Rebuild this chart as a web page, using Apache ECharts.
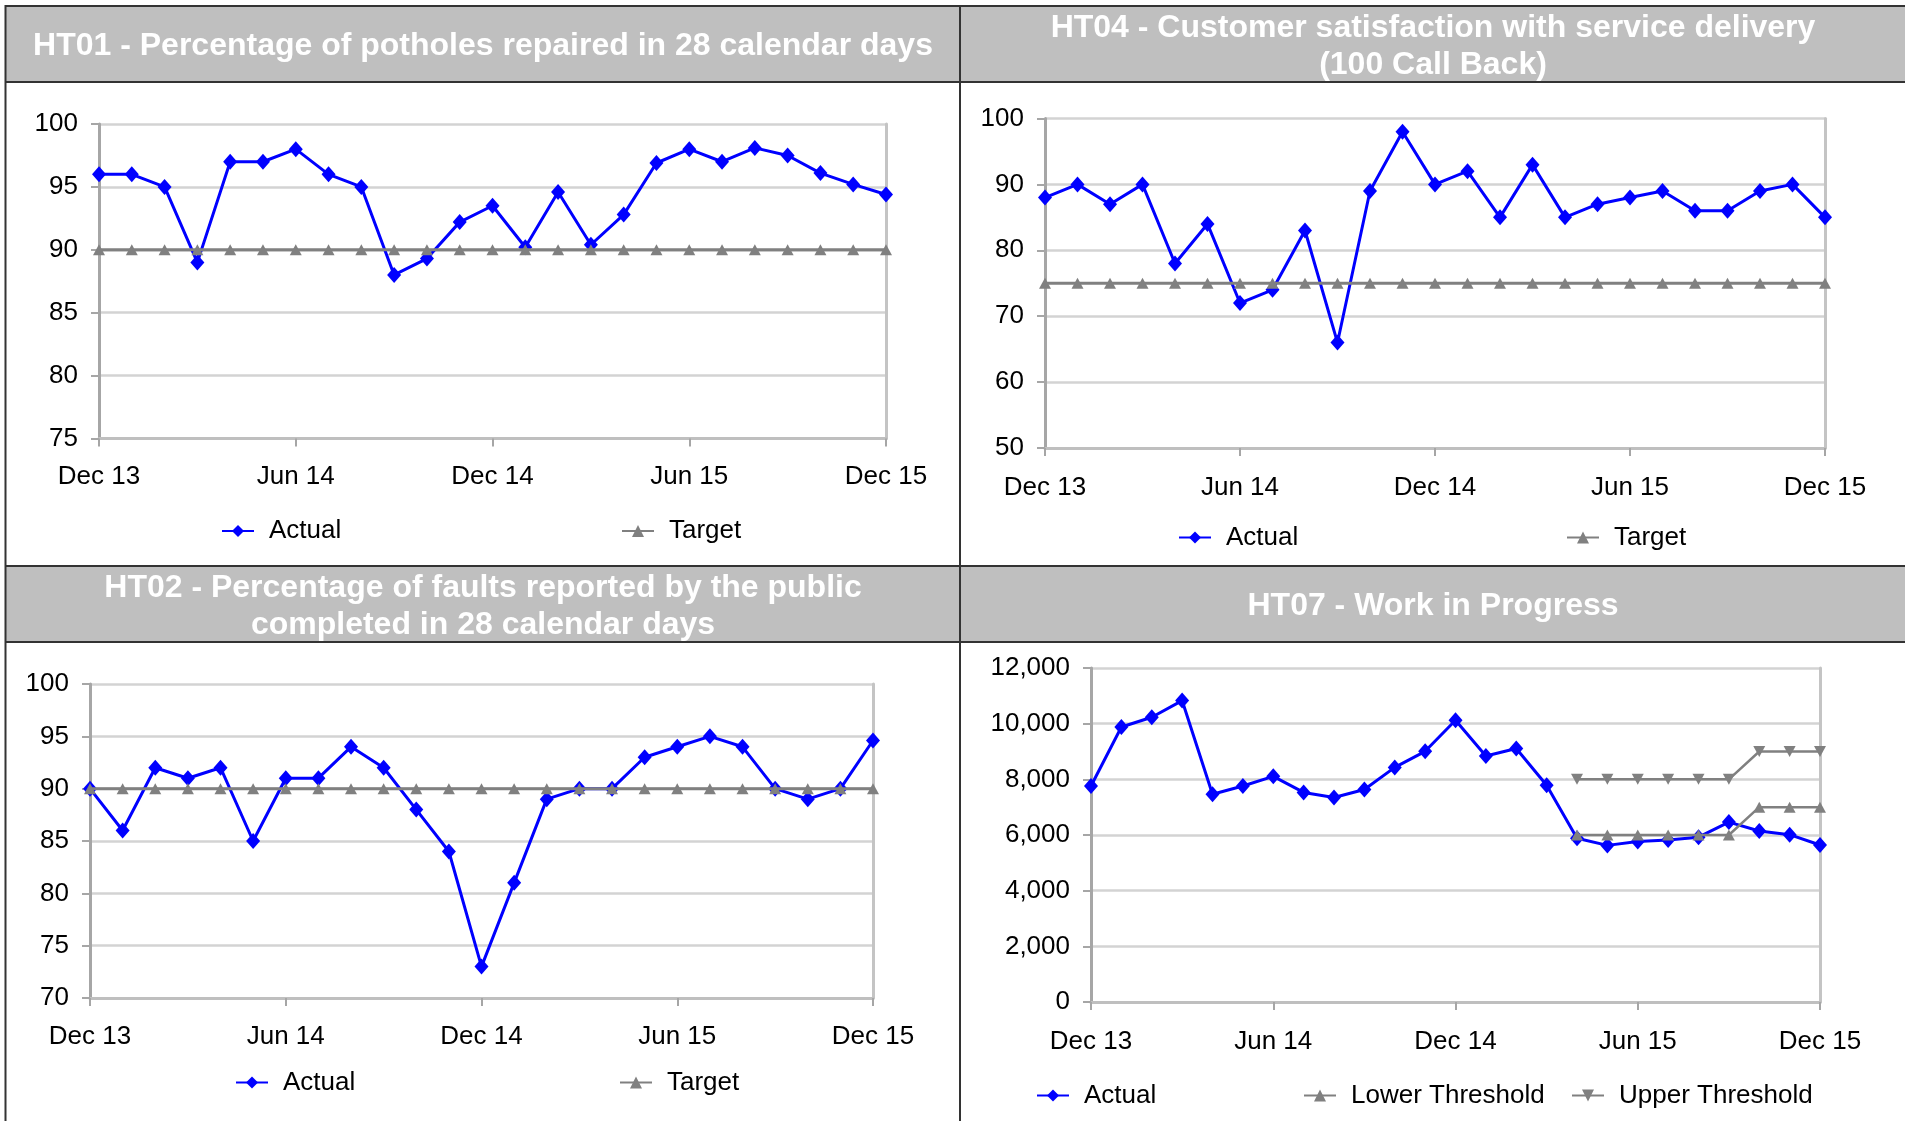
<!DOCTYPE html>
<html>
<head>
<meta charset="utf-8">
<script src="https://cdn.jsdelivr.net/npm/echarts@6/dist/echarts.min.js"></script>
<style>
html,body{margin:0;padding:0;background:#fff;}
#main{width:1905px;height:1121px;}
</style>
</head>
<body>
<div id="main"></div>
<script>
const months = ['Dec 13','Jan 14','Feb 14','Mar 14','Apr 14','May 14','Jun 14','Jul 14','Aug 14','Sep 14','Oct 14','Nov 14','Dec 14','Jan 15','Feb 15','Mar 15','Apr 15','May 15','Jun 15','Jul 15','Aug 15','Sep 15','Oct 15','Nov 15','Dec 15'];

const titles = [
  'HT01 - Percentage of potholes repaired in 28 calendar days',
  'HT04 - Customer satisfaction with service delivery\n(100 Call Back)',
  'HT02 - Percentage of faults reported by the public\ncompleted in 28 calendar days',
  'HT07 - Work in Progress'
];

const ht01Actual = [96,96,95,89,97,97,98,96,95,88,89.3,92.2,93.5,90.2,94.6,90.4,92.8,96.9,98,97,98.1,97.5,96.1,95.2,94.4];
const ht01Target = [90,90,90,90,90,90,90,90,90,90,90,90,90,90,90,90,90,90,90,90,90,90,90,90,90];

const ht04Actual = [88,90,87,90,78,84,72,74,83,66,89,98,90,92,85,93,85,87,88,89,86,86,89,90,85];
const ht04Target = [75,75,75,75,75,75,75,75,75,75,75,75,75,75,75,75,75,75,75,75,75,75,75,75,75];

const ht02Actual = [90,86,92,91,92,85,91,91,94,92,88,84,73,81,89,90,90,93,94,95,94,90,89,90,94.6];
const ht02Target = [90,90,90,90,90,90,90,90,90,90,90,90,90,90,90,90,90,90,90,90,90,90,90,90,90];

const ht07Actual = [7760,9880,10230,10830,7465,7760,8107,7530,7350,7632,8429,9007,10125,8840,9110,7786,5884,5627,5769,5820,5923,6463,6142,6013,5640];
const ht07Lower = [null,null,null,null,null,null,null,null,null,null,null,null,null,null,null,null,6000,6000,6000,6000,6000,6000,7000,7000,7000];
const ht07Upper = [null,null,null,null,null,null,null,null,null,null,null,null,null,null,null,null,8000,8000,8000,8000,8000,8000,9000,9000,9000];

const yRanges = [[75,100,5],[50,100,10],[70,100,5],[0,12000,2000]];

const FONT = '"Liberation Sans", Arial, sans-serif';
const chart = echarts.init(document.getElementById('main'));

const grids = [
  {left:99, top:124, width:787, height:314.5},
  {left:1045, top:118.5, width:780, height:329.5},
  {left:90, top:684, width:783, height:314},
  {left:1091, top:668, width:729, height:334}
];
const xMargins = [25, 26.5, 25.5, 26.5];

const xAxes = grids.map((g,i)=>({
  type:'category', gridIndex:i, data:months, boundaryGap:false,
  axisLine:{show:true, lineStyle:{color:'#BFBFBF', width:3}},
  axisTick:{show:true, interval:5, length:8, lineStyle:{color:'#A6A6A6', width:2}},
  axisLabel:{interval:5, margin:xMargins[i], fontSize:26, color:'#000', fontFamily:FONT},
  splitLine:{show:false}
}));

const yAxes = [];
grids.forEach((g,i)=>{
  const r = yRanges[i];
  yAxes.push({
    type:'value', gridIndex:i, min:r[0], max:r[1], interval:r[2], position:'left',
    axisLine:{show:true, lineStyle:{color:'#A6A6A6', width:3}},
    axisTick:{show:true, length:8, lineStyle:{color:'#A6A6A6', width:2}},
    axisLabel:{margin:21, fontSize:26, color:'#000', fontFamily:FONT, padding:[3,0,0,0],
      formatter: v => i===3 ? v.toLocaleString('en-US') : String(v)},
    splitLine:{show:true, lineStyle:{color:'#D3D3D3', width:2.5}}
  });
  yAxes.push({
    type:'value', gridIndex:i, min:r[0], max:r[1], interval:r[2], position:'right',
    axisLine:{show:true, lineStyle:{color:'#C4C4C4', width:3}},
    axisTick:{show:false}, axisLabel:{show:false}, splitLine:{show:false}
  });
});

function actual(i, data){
  return {type:'line', name:'Actual', xAxisIndex:i, yAxisIndex:2*i, data:data,
    symbol:'diamond', symbolSize:[14,16], showSymbol:true,
    itemStyle:{color:'#0000FF'}, lineStyle:{color:'#0000FF', width:3}, z:3};
}
function gray(i, name, data, rotate, width){
  return {type:'line', name:name, xAxisIndex:i, yAxisIndex:2*i, data:data,
    symbol:'triangle', symbolRotate:rotate, symbolSize:[12,11], showSymbol:true,
    itemStyle:{color:'#808080'}, lineStyle:{color:'#808080', width:width}, z:4};
}

const series = [
  actual(0, ht01Actual), gray(0,'Target',ht01Target,0,3),
  actual(1, ht04Actual), gray(1,'Target',ht04Target,0,3),
  actual(2, ht02Actual), gray(2,'Target',ht02Target,0,3),
  actual(3, ht07Actual), gray(3,'Lower Threshold',ht07Lower,0,2.5), gray(3,'Upper Threshold',ht07Upper,180,2.5)
];

const legendItems = [
  ['Actual',221,528.5],['Target',621,528.5],
  ['Actual',1178,535],['Target',1566,535],
  ['Actual',235,1080],['Target',619,1080],
  ['Actual',1036,1093],['Lower Threshold',1303,1093],['Upper Threshold',1571,1093]
];
const legends = legendItems.map(it=>({
  data:[it[0]], left:it[1], top:it[2]-10.5, padding:0, itemWidth:32, itemHeight:15,
  selectedMode:false,
  textStyle:{fontSize:26, color:'#000', fontFamily:FONT, padding:[0,0,0,10]}
}));

const headerFill = '#BFBFBF';
const lineCol = '#333333';
const titlePos = [[483,46.5],[1433,47],[483,607],[1433,606.5]];
const graphic = [
  {type:'rect', shape:{x:6,y:6,width:954,height:76}, style:{fill:headerFill}, z:-10},
  {type:'rect', shape:{x:960,y:6,width:945,height:76}, style:{fill:headerFill}, z:-10},
  {type:'rect', shape:{x:6,y:566,width:954,height:76}, style:{fill:headerFill}, z:-10},
  {type:'rect', shape:{x:960,y:566,width:945,height:76}, style:{fill:headerFill}, z:-10},
  {type:'line', shape:{x1:5,y1:6,x2:1905,y2:6}, style:{stroke:lineCol,lineWidth:2}, z:-5},
  {type:'line', shape:{x1:5,y1:82,x2:1905,y2:82}, style:{stroke:lineCol,lineWidth:2}, z:-5},
  {type:'line', shape:{x1:5,y1:566,x2:1905,y2:566}, style:{stroke:lineCol,lineWidth:2}, z:-5},
  {type:'line', shape:{x1:5,y1:642,x2:1905,y2:642}, style:{stroke:lineCol,lineWidth:2}, z:-5},
  {type:'line', shape:{x1:5.5,y1:5,x2:5.5,y2:1121}, style:{stroke:lineCol,lineWidth:2}, z:-5},
  {type:'line', shape:{x1:960,y1:5,x2:960,y2:1121}, style:{stroke:lineCol,lineWidth:2}, z:-5}
];
titles.forEach((t,i)=>{
  graphic.push({type:'text', x:titlePos[i][0], y:titlePos[i][1], z:10,
    style:{text:t, fill:'#FFFFFF', font:'bold 32px "Liberation Sans", Arial, sans-serif',
      align:'center', verticalAlign:'middle', lineHeight:37}});
});

chart.setOption({
  animation:false,
  backgroundColor:'#FFFFFF',
  textStyle:{fontFamily:FONT},
  grid:grids.map(g=>Object.assign({containLabel:false, show:false}, g)),
  xAxis:xAxes,
  yAxis:yAxes,
  legend:legends,
  series:series,
  graphic:graphic
});
</script>
</body>
</html>
